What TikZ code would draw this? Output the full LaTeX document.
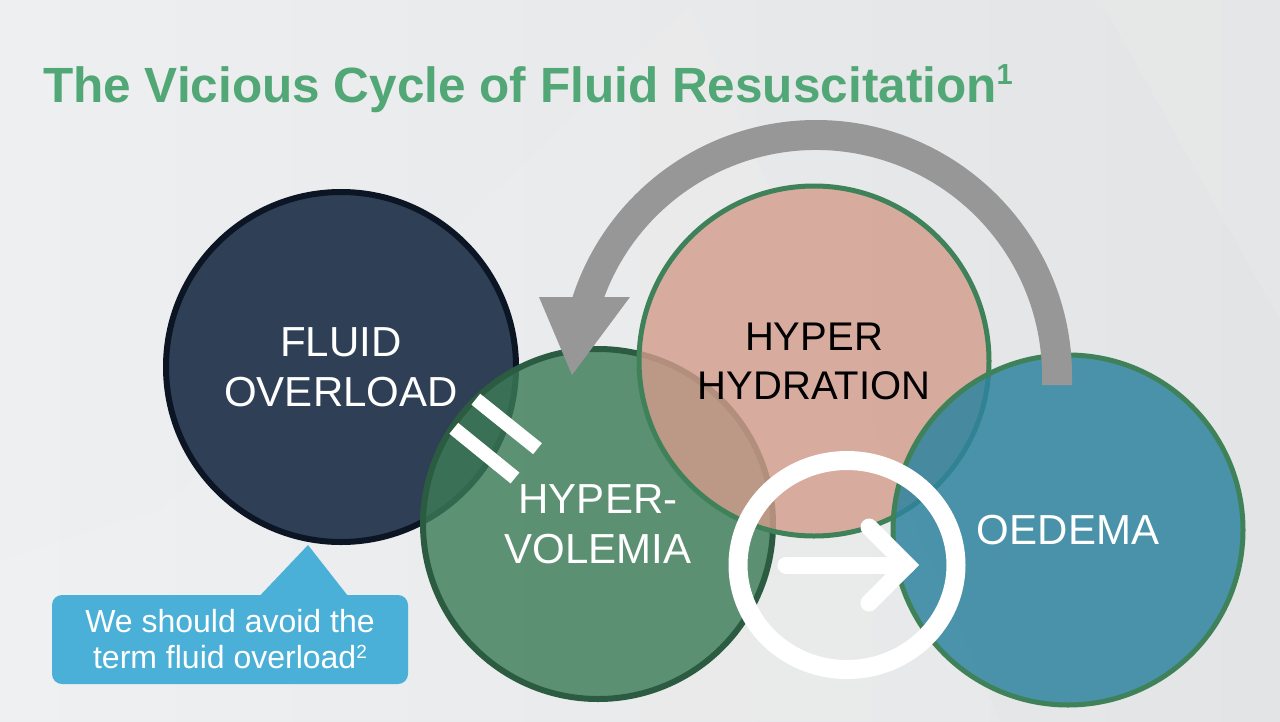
\documentclass[tikz,border=0pt]{standalone}
\usepackage{fontspec}
\setmainfont{Liberation Sans}
\usetikzlibrary{positioning, calc}
\definecolor{bgleft}{HTML}{EEEFF0}
\definecolor{bgmid}{HTML}{DBDCDE}
\definecolor{bgright}{HTML}{E3E4E5}
\definecolor{titlegreen}{HTML}{52A776}
\definecolor{navyfill}{HTML}{2E3F56}
\definecolor{navyline}{HTML}{0C1524}
\definecolor{volfill}{HTML}{3C7C57}
\definecolor{volline}{HTML}{2B5B41}
\definecolor{hydfill}{HTML}{D39C8B}
\definecolor{ringgreen}{HTML}{3F8259}
\definecolor{oedfill}{HTML}{2F849F}
\definecolor{cyclegrey}{HTML}{979797}
\definecolor{noteblue}{HTML}{4BB0D7}

\begin{document}
\begin{tikzpicture}[
        x=1pt, y=-1pt,
        bubble/.style={circle, inner sep=0pt, minimum size=350pt, line width=6pt,
                       align=center, text opacity=1, font=\fontsize{42}{50}\selectfont},
        whitebar/.style={white, line width=14pt},
        whitestroke/.style={white, line width=17pt, line cap=round}
    ]
        \useasboundingbox (0,0) rectangle (1280,721);
        \shade[left color=bgleft, middle color=bgmid, right color=bgright] (0,0) rectangle (1280,721);
        \fill[white, opacity=0.09] (160,510) -- (690,5) -- (1000,721) -- (0,721) -- (0,560) -- cycle;
        \fill[white, opacity=0.08] (1100,0) -- (1280,0) -- (1280,320) -- cycle;

        \node[anchor=base west, inner sep=0pt, text=titlegreen,
              font=\bfseries\fontsize{49.5}{50}\selectfont] (title) at (43,102)
              {The Vicious Cycle of Fluid Resuscitation\raisebox{18pt}{\fontsize{29}{29}\selectfont 1}};

        \node[bubble, fill=navyfill, draw=navyline, text=white] (overload) at (341,367) {FLUID\\OVERLOAD};
        \node[bubble, fill=volfill, fill opacity=0.81, draw=volline, text=white] (volemia) at (598,524) {HYPER-\\VOLEMIA};
        \node[bubble, fill=hydfill, fill opacity=0.8, draw=ringgreen, line width=5pt, text=black,
              font=\fontsize{40}{49}\selectfont] (hydration) at (814,361) {HYPER\\HYDRATION};
        \node[bubble, fill=oedfill, fill opacity=0.85, draw=ringgreen, line width=5pt, text=white] (oedema) at (1068,530) {OEDEMA};

        \fill[cyclegrey] (1072,385) -- (1072,376) arc[start angle=0, end angle=-162.03, radius=256]
            -- (539,297) -- (572,375) -- (630,297) -- (604.3,297)
            arc[start angle=-159.54, end angle=0, radius=226] -- (1042,385) -- cycle;

        \draw[whitebar] (475.8,399.2) -- (537.5,448.7);
        \draw[whitebar] (453.8,428.3) -- (515,478);

        \draw[white, line width=19pt] (847,565) ellipse [x radius=109, y radius=104.5];
        \draw[whitestroke] (786,565) -- (907,565);
        \draw[whitestroke, line join=miter] (869,527) -- (907,565) -- (869,603);

        \node[fill=noteblue, rounded corners=10pt, minimum width=356pt, minimum height=89pt,
              inner sep=0pt, text=white, align=center, font=\fontsize{32}{36}\selectfont] (note) at (230,639.5)
              {We should avoid the\\term fluid overload\raisebox{10pt}{\fontsize{19}{19}\selectfont 2}};
        \fill[noteblue] ($(note.north west)+(208,1)$) -- ($(overload.south)+(-33,0)$) -- ($(note.north west)+(296,1)$) -- cycle;
    \end{tikzpicture}
\end{document}
